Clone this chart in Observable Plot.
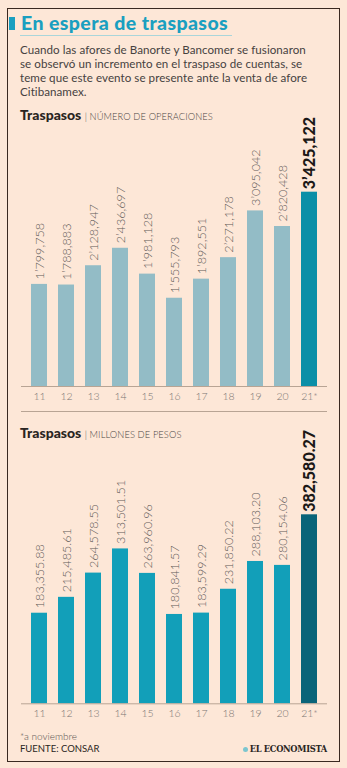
<!DOCTYPE html>
<html><head><meta charset="utf-8">
<script src="https://cdn.jsdelivr.net/npm/d3@7"></script>
<script src="https://cdn.jsdelivr.net/npm/@observablehq/plot@0.6"></script>
<style>
html,body{margin:0;padding:0;background:#fde7d7;}
#page{position:relative;width:347px;height:768px;overflow:hidden;background:#fde7d7;font-family:Lato,sans-serif;}
.abs{position:absolute;white-space:nowrap;}
#card{left:7px;top:8px;width:333px;height:754px;box-sizing:border-box;border:1.5px solid #3a2920;}
#marker{left:9px;top:17px;width:6px;height:13px;background:#1a9fc0;}
#title{left:21px;top:12px;font-size:19.5px;line-height:22px;font-weight:900;color:#1a9fc0;letter-spacing:0.4px;}
#tline{left:20px;top:35px;width:212px;height:1px;background:#a9d5da;}
#sub{left:20px;top:43px;font-size:11.6px;line-height:14px;color:#46423f;font-weight:400;letter-spacing:0.05px;}
.head{left:20px;font-size:14px;line-height:16px;color:#2a2522;font-weight:900;}
.head span{font-weight:300;font-size:9.3px;color:#4a4543;letter-spacing:0.1px;}
.chart{left:0;}
#sep{left:21px;top:411px;width:306px;height:1px;background:#b8a494;}
#note{left:20px;top:729px;font-size:10px;line-height:14px;color:#5a5552;font-weight:300;}
#src{left:20px;top:742px;font-size:9.5px;line-height:14px;color:#2a2522;font-weight:400;}
#logo{right:20px;top:743px;font-size:8.3px;line-height:12px;color:#2a2522;font-family:"DejaVu Serif",serif;font-weight:bold;letter-spacing:-0.3px;}
#logo i{display:inline-block;width:5px;height:5px;border-radius:50%;background:#7cc6cf;margin-right:2px;vertical-align:middle;}
</style></head>
<body>
<div id="page">
  <div id="card" class="abs"></div>
  <div id="marker" class="abs"></div>
  <div id="title" class="abs">En espera de traspasos</div>
  <div id="tline" class="abs"></div>
  <div id="sub" class="abs">Cuando las afores de Banorte y Bancomer se fusionaron<br>se observó un incremento en el traspaso de cuentas, se<br>teme que este evento se presente ante la venta de afore<br>Citibanamex.</div>
  <div id="c1" class="abs chart" style="top:100px"></div>
  <div class="abs head" style="top:107px">Traspasos <span>| NÚMERO DE OPERACIONES</span></div>
  <div id="sep" class="abs"></div>
  <div id="c2" class="abs chart" style="top:420px"></div>
  <div class="abs head" style="top:425px">Traspasos <span>| MILLONES DE PESOS</span></div>
  <div id="note" class="abs">*a noviembre</div>
  <div id="src" class="abs">FUENTE: CONSAR</div>
  <div id="logo" class="abs"><i></i>EL ECONOMISTA</div>
</div>
<script>
const years = ["11","12","13","14","15","16","17","18","19","20","21*"];
const operaciones = [1799758, 1788883, 2128947, 2436697, 1981128, 1555793, 1892551, 2271178, 3095042, 2820428, 3425122];
const pesos = [183355.88, 215485.61, 264578.55, 313501.51, 263960.96, 180841.57, 183599.29, 231850.22, 288103.20, 280154.06, 382580.27];
const highlightYear = "21*";

const fmtOps = v => d3.format(",")(v).replace(",", "’");
const fmtPesos = v => d3.format(",.2f")(v);

function chart(values, fmt, opts) {
  const data = years.map((y, i) => ({year: y, value: values[i], label: fmt(values[i]), hi: y === highlightYear}));
  return Plot.plot({
    width: 347, height: 305,
    marginLeft: 21, marginRight: 20, marginTop: opts.top, marginBottom: opts.bottom,
    style: {background: "transparent", fontFamily: "Lato, sans-serif", fontSize: "10.5px", color: "#7a7572", overflow: "visible"},
    x: {domain: years, paddingInner: 0.42, paddingOuter: 0.325, label: null, tickSize: 0, tickPadding: 6},
    y: {domain: [0, d3.max(values)], axis: null},
    color: {type: "identity"},
    marks: [
      Plot.barY(data, {x: "year", y: "value", fill: d => d.hi ? opts.hiColor : opts.color}),
      Plot.ruleY([0], {stroke: "#b8a494", strokeWidth: 1}),
      Plot.text(data.filter(d => !d.hi), {x: "year", y: "value", text: "label", rotate: -90, textAnchor: "start", dy: -5, fontSize: 12.6, fontWeight: 300, fill: "#5f5a57"}),
      Plot.text(data.filter(d => d.hi), {x: "year", y: "value", text: "label", rotate: -90, textAnchor: "start", dy: -3, fontSize: 16, fontWeight: 900, fill: "#1c1917"})
    ]
  });
}

const p1 = chart(operaciones, fmtOps, {top: 91.7, bottom: 19, color: "#93bcc6", hiColor: "#0b8fa7"});
p1.querySelectorAll("g[aria-label='x-axis tick label'] text, g[aria-label='x-axis'] text").forEach(t => t.setAttribute("font-weight", "300"));
document.getElementById("c1").appendChild(p1);

const p2 = chart(pesos, fmtPesos, {top: 94.3, bottom: 21.7, color: "#129fb9", hiColor: "#0a6479"});
p2.querySelectorAll("g[aria-label='x-axis tick label'] text, g[aria-label='x-axis'] text").forEach(t => t.setAttribute("font-weight", "300"));
document.getElementById("c2").appendChild(p2);
</script>
</body></html>
